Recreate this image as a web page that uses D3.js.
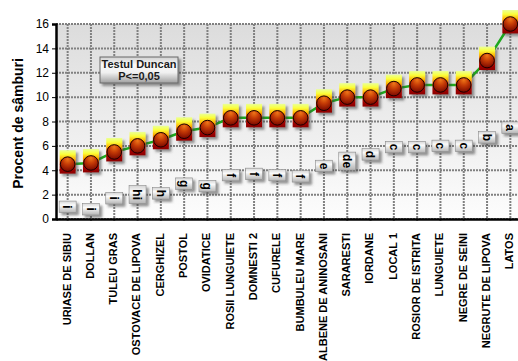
<!DOCTYPE html>
<html><head><meta charset="utf-8">
<script src="https://cdn.jsdelivr.net/npm/d3@7"></script>
<style>body{margin:0;background:#fff}svg{display:block}</style>
</head><body><svg id="chart" width="518" height="361"></svg>
<script>
// Seed percentage per grape cultivar, with Duncan test groupings
const categories = ["URIASE DE SIBIU","DOLLAN","TULEU GRAS","OSTOVACE DE LIPOVA","CERGHIZEL","POSTOL","OVIDATICE","ROSII LUNGUIETE","DOMNESTI 2","CUFURELE","BUMBULEU MARE","ALBENE DE ANINOSANI","SARARESTI","IORDANE","LOCAL 1","ROSIOR DE ISTRITA","LUNGUIETE","NEGRE DE SEINI","NEGRUTE DE LIPOVA","LATOS"];
const seedPercent = [4.5,4.6,5.5,6.0,6.5,7.2,7.5,8.3,8.3,8.3,8.3,9.5,10.0,10.0,10.7,11.0,11.0,11.0,13.0,16.0];
const duncanGroups = ["i","i","i","hi","h","g","g","f","f","f","f","e","de","d","c","c","c","c","b","a"];
const duncanLabelAt = [1.0,0.8,1.7,2.0,2.1,2.9,2.7,3.6,3.7,3.6,3.5,4.35,4.75,5.3,5.9,5.9,6.0,6.0,6.7,7.5];
const yTicks = [0,2,4,6,8,10,12,14,16];
const legendLines = ["Testul Duncan","P<=0,05"];
const yTitle = "Procent de sâmburi";

(function draw(){
const FONT = "'Liberation Sans', Arial, sans-serif";
const svg = d3.select("#chart");
const pLeft = 56, pTop = 24, pBottom = 219, pRight = 522;

const x = d3.scaleBand().domain(categories).range([pLeft, pRight]).padding(0);
const cx = d => x(d) + x.bandwidth() / 2;
const y = d3.scaleLinear().domain([0, 16]).range([pBottom, pTop]);

const defs = svg.append("defs");
const plotBg = defs.append("linearGradient").attr("id","plotBg").attr("x1",0).attr("y1",0).attr("x2",0).attr("y2",1);
plotBg.append("stop").attr("offset","0%").attr("stop-color","#dcdcdc");
plotBg.append("stop").attr("offset","100%").attr("stop-color","#fdfdfd");

const boxGrad = defs.append("linearGradient").attr("id","boxGrad").attr("x1",0).attr("y1",0).attr("x2",0).attr("y2",1);
[["0%","#eaff98"],["18%","#fbff3a"],["38%","#ffb000"],["55%","#d84000"],["75%","#a80800"],["100%","#8c0000"]]
  .forEach(([o,c]) => boxGrad.append("stop").attr("offset",o).attr("stop-color",c));

const ballGrad = defs.append("radialGradient").attr("id","ballGrad").attr("cx","50%").attr("cy","30%").attr("r","70%").attr("fx","50%").attr("fy","15%");
[["0%","#f07818"],["45%","#c43a06"],["100%","#7a0800"]]
  .forEach(([o,c]) => ballGrad.append("stop").attr("offset",o).attr("stop-color",c));

const tagGrad = defs.append("linearGradient").attr("id","tagGrad").attr("x1",0).attr("y1",0).attr("x2",0).attr("y2",1);
[["0%","#d6d6d6"],["35%","#fbfbfb"],["100%","#b4b4b4"]]
  .forEach(([o,c]) => tagGrad.append("stop").attr("offset",o).attr("stop-color",c));

const legGrad = defs.append("linearGradient").attr("id","legGrad").attr("x1",0).attr("y1",0).attr("x2",0).attr("y2",1);
[["0%","#d0d0d0"],["30%","#fafafa"],["60%","#f0f0f0"],["100%","#a0a0a0"]]
  .forEach(([o,c]) => legGrad.append("stop").attr("offset",o).attr("stop-color",c));

const shadow = defs.append("filter").attr("id","shadow").attr("x","-30%").attr("y","-30%").attr("width","170%").attr("height","170%");
shadow.append("feDropShadow").attr("dx",2.5).attr("dy",2.5).attr("stdDeviation",1.2)
  .attr("flood-color","#404040").attr("flood-opacity",0.55);

const clip = defs.append("clipPath").attr("id","plotClip");
clip.append("rect").attr("x",pLeft).attr("y",0).attr("width",pRight-pLeft).attr("height",pBottom+2);

// plot background
svg.append("rect").attr("x",pLeft).attr("y",pTop).attr("width",pRight-pLeft).attr("height",pBottom-pTop)
  .attr("fill","url(#plotBg)");

// grid
const grid = svg.append("g").attr("clip-path","url(#plotClip)");
grid.selectAll("line.h").data(yTicks).join("line").attr("class","h")
  .attr("x1",pLeft).attr("x2",pRight).attr("y1",d=>y(d)).attr("y2",d=>y(d))
  .attr("stroke","#808080").attr("stroke-width",2).attr("stroke-dasharray","2,1");
grid.selectAll("line.v").data(categories).join("line").attr("class","v")
  .attr("x1",d=>cx(d)).attr("x2",d=>cx(d)).attr("y1",pTop).attr("y2",pBottom+3)
  .attr("stroke","#808080").attr("stroke-width",2).attr("stroke-dasharray","2,1");

// axes
const yAxis = svg.append("g").attr("transform",`translate(${pLeft},0)`)
  .call(d3.axisLeft(y).tickValues(yTicks).tickSize(4).tickPadding(3).tickFormat(d3.format("d")));
yAxis.select(".domain").attr("stroke","#000").attr("stroke-width",2.5);
yAxis.selectAll(".tick line").attr("stroke","#000").attr("stroke-width",1);
yAxis.selectAll("text").attr("font-family",FONT).attr("font-size",12).attr("fill","#000");

const xAxis = svg.append("g").attr("transform",`translate(0,${pBottom})`)
  .call(d3.axisBottom(x).tickSize(0).tickPadding(0));
xAxis.select(".domain").attr("stroke","#000").attr("stroke-width",2.5);
xAxis.selectAll(".tick text")
  .attr("font-family",FONT).attr("font-size",11).attr("font-weight","bold").attr("fill","#000")
  .attr("text-anchor","end").attr("dy","0.35em")
  .attr("transform","translate(-1,14) rotate(-90)")
  .attr("x",0).attr("y",0);

// y title
svg.append("text").attr("transform",`translate(23,${(pTop+pBottom)/2+2}) rotate(-90)`)
  .attr("text-anchor","middle").attr("font-family",FONT).attr("font-size",14).attr("font-weight","bold")
  .text(yTitle);

const pts = categories.map((c,i)=>({c, v: seedPercent[i], g: duncanGroups[i], p: duncanLabelAt[i]}));
const plot = svg.append("g").attr("clip-path","url(#plotClip)");

// Duncan group tags
const tags = plot.selectAll("g.tag").data(pts).join("g").attr("class","tag")
  .attr("transform", d => `translate(${cx(d.c)},${y(d.p)})`);
tags.each(function(d){
  const g = d3.select(this);
  const len = d.g.length * 6.5 + 5;
  g.append("rect").attr("x",-8.5).attr("y",-len/2).attr("width",17).attr("height",len)
    .attr("fill","url(#tagGrad)").attr("stroke","#8a8a8a").attr("stroke-width",0.6)
    .attr("filter","url(#shadow)");
  g.append("text").attr("transform","rotate(90)")
    .attr("text-anchor","middle").attr("dy","0.35em")
    .attr("font-family",FONT).attr("font-size",12).attr("font-weight","bold").attr("fill","#000")
    .text(d.g);
});

// connecting line
plot.append("path").datum(pts)
  .attr("d", d3.line().x(d=>cx(d.c)).y(d=>y(d.v)))
  .attr("fill","none").attr("stroke","#1ea81e").attr("stroke-width",2.5);

// markers
const mk = plot.selectAll("g.mk").data(pts).join("g").attr("class","mk")
  .attr("transform", d => `translate(${cx(d.c)},${y(d.v)})`);
mk.append("rect").attr("x",-8).attr("y",-14).attr("width",16).attr("height",23.5)
  .attr("fill","url(#boxGrad)").attr("filter","url(#shadow)");
mk.append("circle").attr("r",7.3).attr("fill","url(#ballGrad)")
  .attr("stroke","#1a0000").attr("stroke-width",1);

// legend box
const lg = svg.append("g").attr("transform","translate(100,57)");
lg.append("rect").attr("width",78).attr("height",26)
  .attr("fill","url(#legGrad)").attr("stroke","#6a6a6a").attr("stroke-width",1)
  .attr("filter","url(#shadow)");
lg.selectAll("text").data(legendLines).join("text")
  .attr("x",39).attr("y",(d,i)=>10.5+i*12.5).attr("text-anchor","middle")
  .attr("font-family",FONT).attr("font-size",11).attr("font-weight","bold").attr("fill","#1a1a1a")
  .text(d=>d);
})();
</script>
</body></html>
